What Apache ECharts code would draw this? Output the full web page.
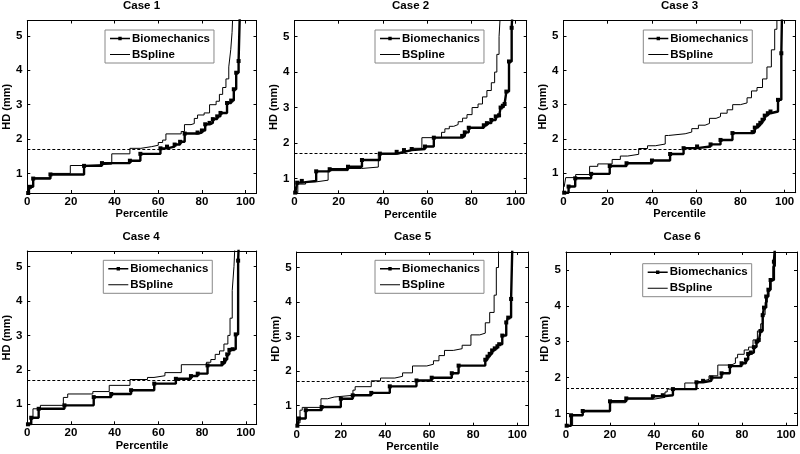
<!DOCTYPE html>
<html>
<head>
<meta charset="utf-8">
<script src="https://cdn.jsdelivr.net/npm/echarts@6/dist/echarts.min.js"></script>
<style>
html,body{margin:0;padding:0;background:#fff;}
#chart{width:800px;height:454px;}
</style>
</head>
<body>
<div id="chart"></div>
<script>
// ---- data: [percentile, HD (mm)] step points ----
const caseTitles = ['Case 1', 'Case 2', 'Case 3', 'Case 4', 'Case 5', 'Case 6'];
const xTicks = [0, 20, 40, 60, 80, 100];
const yTicks = [1, 2, 3, 4, 5];
const yMinByCase = [0.43, 0.58, 0.43, 0.42, 0.42, 0.66];
const yMaxByCase = [5.45, 5.45, 5.45, 5.45, 5.45, 5.5];
const threshold = 1.7;

const bio1 = [[0.4,0.43],[1.2,0.61],[2.7,0.85],[10.6,0.97],[26.0,1.22],[34.2,1.30],[47,1.37],[51.8,1.57],[61,1.73],[64,1.78],[67.5,1.84],[70,1.92],[72.1,2.16],[78,2.19],[80,2.25],[81.5,2.43],[83.5,2.47],[85,2.58],[87,2.66],[88.5,2.76],[91.5,3.05],[93.4,3.12],[94.6,3.45],[95.7,3.93],[96.8,4.27],[97.5,6]];
const bsp1 = [[0.4,0.45],[1.3,0.65],[2.4,0.87],[10.6,1.0],[19.7,1.23],[26,1.27],[38.7,1.57],[47,1.73],[52,1.78],[57,1.82],[60,1.9],[62,1.97],[63.5,2.15],[70.5,2.22],[72,2.42],[75,2.45],[76.5,2.6],[78,2.7],[81,2.76],[83.5,3.0],[86.5,3.1],[88,3.3],[89.5,3.5],[91,3.75],[92.3,4.1],[93.2,4.6],[93.8,5.1],[94.4,6]];

const bio2 = [[0.3,0.6],[1.2,0.88],[3.3,0.93],[9.8,1.2],[15.9,1.26],[24.2,1.33],[30.5,1.52],[38.6,1.7],[46.2,1.75],[49.5,1.8],[53,1.83],[59,1.9],[63,2.15],[75.8,2.2],[77,2.3],[78.8,2.43],[85.6,2.5],[87,2.56],[89,2.65],[91,2.75],[92.5,2.78],[93.2,3.0],[94.2,3.05],[95,3.1],[95.8,3.45],[97,4.3],[98.2,5.25],[98.8,6]];
const bsp2 = [[0.3,0.6],[1.5,0.84],[5,0.9],[9.5,0.95],[15.2,1.22],[24.2,1.28],[30.3,1.32],[37.9,1.68],[46,1.72],[50,1.78],[52.6,1.85],[57.6,2.15],[66.5,2.3],[68,2.4],[70,2.47],[72,2.52],[74,2.6],[76,2.7],[78,2.8],[80.3,3.0],[83,3.1],[85,3.3],[87,3.48],[89,3.7],[90.5,4.0],[91.5,4.5],[92.5,5.0],[93.4,6]];

const bio3 = [[0.3,0.43],[2.3,0.61],[5.3,0.85],[12.5,0.98],[20.9,1.21],[28.5,1.29],[40,1.37],[48.2,1.56],[54.3,1.73],[60.4,1.78],[66.5,1.84],[71,1.97],[76.4,2.17],[85.5,2.2],[86.5,2.33],[88,2.4],[89,2.47],[90,2.56],[91,2.68],[92.4,2.75],[93.6,2.8],[97,3.14],[98.5,4.5],[98.9,6]];
const bsp3 = [[0.3,0.6],[1,0.87],[5.5,0.96],[11.8,1.2],[15.5,1.27],[22,1.4],[25.7,1.5],[29,1.55],[34,1.72],[38,1.8],[41.5,1.85],[46,2.1],[47.5,2.15],[55,2.2],[58,2.3],[61,2.4],[64,2.45],[66,2.6],[69,2.65],[71,2.75],[74,2.85],[76.5,3.0],[80,3.05],[83,3.2],[85,3.4],[87.5,3.5],[90,3.75],[92,4.1],[94,4.6],[95.5,5.2],[96.5,6]];

const bio4 = [[0.3,0.42],[1.8,0.61],[5.2,0.87],[17,0.97],[30.4,1.21],[38.4,1.3],[47.5,1.41],[58.1,1.6],[68,1.74],[74.9,1.82],[78,1.89],[82.5,2.13],[89.3,2.2],[90.5,2.3],[91.5,2.45],[92.5,2.58],[94,2.6],[95.4,3.03],[96.5,5.17],[97,6]];
const bsp4 = [[0.3,0.45],[1.5,0.6],[2.6,0.87],[6,0.97],[16.5,1.2],[18.5,1.3],[30,1.37],[37.5,1.55],[47,1.72],[55,1.78],[58,1.83],[63,1.92],[70.5,2.15],[82,2.22],[84,2.3],[86,2.45],[88,2.55],[90,2.75],[91.8,3.0],[92.8,3.5],[93.8,4.3],[94.6,5.0],[95.3,6]];

const bio5 = [[0.3,0.42],[1,0.63],[4.1,0.87],[11.3,0.96],[20,1.2],[25.4,1.3],[33.8,1.37],[42.2,1.56],[54.3,1.73],[61.2,1.81],[70.3,1.94],[73.4,2.16],[85.5,2.33],[86.5,2.42],[87.5,2.5],[88.6,2.6],[89.8,2.66],[91,2.72],[91.8,2.78],[93.2,3.03],[95,3.41],[95.9,3.55],[97.2,4.09],[97.9,6]];
const bsp5 = [[0.3,0.5],[1.5,0.87],[2.5,0.95],[11,1.2],[14,1.25],[17,1.3],[25.5,1.45],[26.5,1.55],[33.8,1.72],[38,1.8],[44.5,1.85],[48,1.95],[52.5,2.15],[59,2.2],[62,2.3],[64.5,2.45],[67,2.6],[71,2.65],[75,2.75],[79,3.05],[83,3.1],[85.5,3.4],[87.5,3.7],[89.5,4.2],[90.5,5.0],[91.5,6]];

const bio6 = [[0.3,0.66],[2.3,0.95],[7.6,1.07],[20,1.34],[27.4,1.42],[39.5,1.48],[44,1.51],[48.6,1.68],[59.3,1.87],[62.3,1.91],[66.1,2.0],[70.7,2.12],[74.5,2.32],[79.8,2.4],[81.8,2.5],[82.8,2.66],[84,2.7],[85.4,2.85],[86.6,3.0],[87.6,3.05],[88.4,3.3],[89.4,3.74],[90,3.95],[91,4.26],[92,4.45],[93,4.72],[94.5,5.23],[95.4,6]];
const bsp6 = [[0.3,0.66],[3,0.95],[7.6,1.05],[20,1.3],[27,1.4],[40,1.45],[45,1.6],[46,1.68],[54,1.85],[58,1.9],[62,1.95],[65,2.05],[69,2.35],[75,2.4],[77,2.55],[78,2.65],[81,2.77],[83,2.85],[85,3.05],[87,3.3],[88.5,3.5],[89.5,3.75],[90.5,4.1],[91.5,4.4],[92.5,4.7],[94,5.1],[95.2,6]];

const bioByCase = [bio1, bio2, bio3, bio4, bio5, bio6];
const bspByCase = [bsp1, bsp2, bsp3, bsp4, bsp5, bsp6];

// ---- layout ----
const grids = [
  {left: 26.5, top: 20.5, width: 230, height: 172.5},
  {left: 294.5, top: 20.7, width: 232.2, height: 172.6},
  {left: 563.5, top: 20.7, width: 232.2, height: 172},
  {left: 25.5, top: 251, width: 231.2, height: 173.3},
  {left: 296.7, top: 252, width: 231.6, height: 173.7},
  {left: 566, top: 252, width: 232.3, height: 173.7}
];
const legendPos = [[105, 30], [375, 30], [643.3, 30], [103.3, 260.3], [375, 260.3], [642.7, 263.7]];

// legend glyphs (20 x 4 box): line with small square / plain thin line
const bioIcon = 'path://M0,1.3L20,1.3L20,2.7L0,2.7Z M8.3,0.3L11.7,0.3L11.7,3.7L8.3,3.7Z M0,0L0.01,0L0.01,0.01Z M19.99,3.99L20,3.99L20,4L19.99,4Z';
const bspIcon = 'path://M0,1.5L20,1.5L20,2.5L0,2.5Z M0,0L0.01,0L0.01,0.01Z M19.99,3.99L20,3.99L20,4L19.99,4Z';

const FONT = '"Liberation Sans", Arial, Helvetica, sans-serif';
const axisLineStyle = {color: '#000', width: 1};

const option = {
  backgroundColor: '#fff',
  animation: false,
  textStyle: {fontFamily: FONT},
  title: [], grid: [], xAxis: [], yAxis: [], legend: [], series: []
};

grids.forEach((g, i) => {
  option.grid.push({left: g.left, top: g.top, width: g.width, height: g.height, containLabel: false});
  option.title.push({
    text: caseTitles[i],
    left: g.left + g.width / 2, top: i < 3 ? -0.5 : 231,
    textAlign: 'center', padding: 0,
    textStyle: {fontFamily: FONT, fontWeight: 'bold', fontSize: 11.5, color: '#000'}
  });
  option.xAxis.push({
    type: 'value', gridIndex: i, position: 'bottom', min: 0, max: 105, interval: 20,
    axisLine: {show: true, onZero: false, lineStyle: axisLineStyle},
    axisTick: {show: true, inside: true, length: 3, lineStyle: axisLineStyle},
    axisLabel: {show: true, margin: 3, color: '#000', fontFamily: FONT, fontWeight: 'bold', fontSize: 11.5,
      formatter: v => (xTicks.indexOf(v) >= 0 ? String(v) : '')},
    splitLine: {show: false},
    name: 'Percentile', nameLocation: 'middle', nameGap: 13.5,
    nameTextStyle: {fontFamily: FONT, fontWeight: 'bold', fontSize: 11, color: '#000'}
  });
  option.xAxis.push({
    type: 'value', gridIndex: i, position: 'top', min: 0, max: 105, interval: 20,
    axisLine: {show: true, onZero: false, lineStyle: axisLineStyle},
    axisTick: {show: true, inside: true, length: 3, lineStyle: axisLineStyle},
    axisLabel: {show: false}, splitLine: {show: false}
  });
  option.yAxis.push({
    type: 'value', gridIndex: i, position: 'left', min: yMinByCase[i], max: yMaxByCase[i],
    axisLine: {show: true, onZero: false, lineStyle: axisLineStyle},
    axisTick: {show: true, inside: true, length: 3, lineStyle: axisLineStyle},
    axisLabel: {show: true, margin: 5, color: '#000', fontFamily: FONT, fontWeight: 'bold', fontSize: 11.5,
      formatter: v => (yTicks.indexOf(v) >= 0 ? String(v) : '')},
    splitLine: {show: false},
    name: 'HD (mm)', nameLocation: 'middle', nameGap: 12,
    nameTextStyle: {fontFamily: FONT, fontWeight: 'bold', fontSize: 11, color: '#000'}
  });
  option.yAxis.push({
    type: 'value', gridIndex: i, position: 'right', min: yMinByCase[i], max: yMaxByCase[i],
    axisLine: {show: true, onZero: false, lineStyle: axisLineStyle},
    axisTick: {show: true, inside: true, length: 3, lineStyle: axisLineStyle},
    axisLabel: {show: false}, splitLine: {show: false}
  });

  option.legend.push({
    orient: 'vertical', left: legendPos[i][0], top: legendPos[i][1],
    data: [{name: 'Biomechanics', icon: bioIcon}, {name: 'BSpline', icon: bspIcon}],
    backgroundColor: '#fff', borderColor: '#888', borderWidth: 1,
    padding: [2, 4, 2, 5], itemGap: 3, itemWidth: 20, itemHeight: 4,
    itemStyle: {color: '#000', borderWidth: 0},
    selectedMode: false,
    textStyle: {fontFamily: FONT, fontWeight: 'bold', fontSize: 11.5, color: '#000', lineHeight: 13, padding: [0, 0, 0, -3]}
  });

  option.series.push({
    name: 'Biomechanics', type: 'line', xAxisIndex: 2 * i, yAxisIndex: 2 * i,
    data: bioByCase[i], step: 'end',
    symbol: 'rect', symbolSize: 4, showSymbol: true,
    lineStyle: {color: '#000', width: 2.4},
    itemStyle: {color: '#000'},
    emphasis: {disabled: true}, silent: true, z: 3,
    markLine: {
      symbol: 'none', silent: true, label: {show: false},
      lineStyle: {type: [3, 2], color: '#000', width: 1},
      emphasis: {disabled: true},
      data: [{yAxis: threshold}]
    }
  });
  option.series.push({
    name: 'BSpline', type: 'line', xAxisIndex: 2 * i, yAxisIndex: 2 * i,
    data: bspByCase[i], step: 'end',
    symbol: 'none', showSymbol: false,
    lineStyle: {color: '#000', width: 1},
    itemStyle: {color: '#000'},
    emphasis: {disabled: true}, silent: true, z: 4
  });
});

const chart = echarts.init(document.getElementById('chart'), null, {renderer: 'canvas'});
chart.setOption(option);
</script>
</body>
</html>
